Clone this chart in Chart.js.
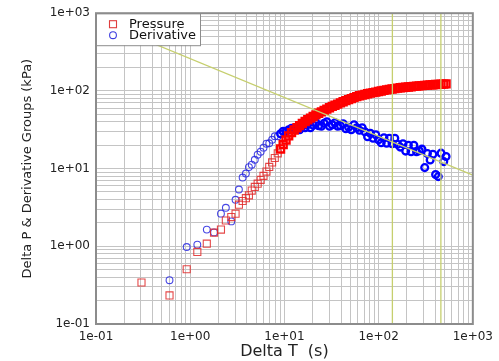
<!DOCTYPE html>
<html>
<head>
<meta charset="utf-8">
<script src="https://cdn.jsdelivr.net/npm/chart.js@4/dist/chart.umd.min.js"></script>
<style>
  html, body { margin: 0; padding: 0; background: #fff; }
  canvas { display: block; }
</style>
</head>
<body>
<canvas id="chart" width="499" height="361"></canvas>
<script>
/* global Chart */

// Delta T (s), shared by both series
const time = [
	0.304, 0.603, 0.918, 1.19, 1.5, 1.79, 2.12, 2.39, 2.73, 3.03, 3.29,
	3.6, 3.9, 4.2, 4.5, 4.85, 5.2, 5.6, 6.0, 6.45, 6.9,
	7.4, 7.9, 8.5, 9.1, 9.7, 10.4, 11.1, 11.9, 12.7, 13.6,
	14.5, 15.5, 16.6, 17.7, 18.9, 20.2, 21.6, 23.1, 24.7, 26.4,
	28.2, 30.1, 32.2, 34.4, 36.8, 39.3, 42, 44.9, 48, 51.3,
	54.8, 58.6, 62.6, 66.9, 71.5, 76.4, 81.7, 87.3, 93.3, 99.7,
	106.6, 113.9, 121.7, 130, 139, 148.5, 158.7, 169.6, 181.3, 193.7,
	207, 221.3, 236.5, 252.8, 270, 288.6, 308.5, 329.7, 352.4, 376.6,
	402.5, 430, 459.6, 491.2, 520
];

// Delta P (kPa)
const pressure = [
	0.342, 0.233, 0.507, 0.846, 1.08, 1.5, 1.64, 2.15, 2.38, 2.63, 3.43,
	3.83, 4.16, 4.53, 5.21, 5.81, 6.4, 7.16, 8.06, 9.15, 10.5,
	12.0, 13.7, 15.7, 17.9, 20.4, 23.3, 26.4, 29.0, 31.4, 33.6,
	35.8, 38.1, 40.4, 42.6, 44.7, 46.9, 49.2, 51.6, 53.8, 56.1,
	58.2, 60.7, 63.1, 65.4, 67.7, 70.2, 72.5, 74.9, 77.3, 79.4,
	81.8, 84.3, 86.5, 88.1, 89.9, 91.8, 93.5, 95.1, 96.6, 98.3,
	99.7, 101.5, 103.0, 104.5, 105.7, 107.0, 108.6, 109.6, 110.6, 111.5,
	112.2, 113.2, 114.2, 115.3, 116.2, 116.9, 117.7, 118.7, 119.4, 120.0,
	120.8, 121.3, 121.6, 122.2, 123.0
];

// Derivative group (kPa)
const derivative = [
	null, 0.366, 0.98, 1.05, 1.64, 1.51, 2.63, 3.13, 2.09, 3.97, 5.38,
	7.67, 8.63, 10.45, 11.25, 13.0, 15.1, 16.5, 18.6, 20.9, 21.2,
	23.5, 26.1, 26.1, 28.1, 30.3, 29.8, 31.6, 33.0, 31.6, 33.0,
	31.6, 35.1, 33.5, 37.2, 33.5, 36.1, 38.9, 35.6, 35.1, 38.3,
	40.0, 35.1, 36.6, 38.9, 35.1, 35.6, 37.8, 32.6, 34.0, 31.6,
	36.6, 33.5, 31.2, 33.5, 29.8, 25.7, 28.5, 24.6, 27.3, 23.5,
	21.5, 25.0, 21.2, 24.6, 20.9, 24.6, 20.6, 18.9, 20.9, 16.8,
	20.0, 16.5, 20.0, 16.5, 17.0, 17.8, 10.3, 15.6, 12.9, 15.3,
	8.38, 7.89, 15.8, 12.3, 14.3
];

// Half slope line and the two vertical markers
const slopeTime = [0.1, 1000];
const slopeValue = [823, 8.26];
const markerTimes = [140, 458];

const decades = [0.1, 1, 10, 100, 1000];
const tickLabels = ['1e-01', '1e+00', '1e+01', '1e+02', '1e+03'];

const FONT = 'DejaVu Sans';
const lineColor = '#c6cf6e';
const gridColor = '#c4c4c4';

const points = (xs, ys) => xs.map((x, i) => ({ x: x, y: ys[i] }));

// grid at 1..9 x each decade
const gridValues = [];
decades.forEach((d) => {
	if (d === 1000) {
		gridValues.push(d);
		return;
	}
	for (let m = 1; m < 10; m++) gridValues.push(m * d);
});

const tickText = (value) => {
	const i = decades.findIndex((d) => Math.abs(Math.log10(value) - Math.log10(d)) < 1e-6);
	return i >= 0 ? tickLabels[i] : '';
};

const axis = (text, titleFont, titlePadding, size) => ({
	type: 'logarithmic',
	min: 0.1,
	max: 1000,
	afterBuildTicks: (scale) => {
		scale.ticks = gridValues.map((v) => ({ value: v }));
	},
	afterFit: (scale) => {
		if (scale.isHorizontal()) scale.height = size;
		else scale.width = size;
	},
	grid: { display: true, drawTicks: false, color: gridColor, lineWidth: 1 },
	border: { display: false },
	ticks: {
		autoSkip: false,
		maxRotation: 0,
		padding: 6,
		color: '#222',
		font: { family: FONT, size: 12 },
		callback: tickText
	},
	title: {
		display: true,
		text: text,
		color: '#222',
		font: { family: FONT, size: titleFont },
		padding: titlePadding
	}
});

// Grid pushed behind everything already drawn, then legend and frame on top
const framePlugin = {
	id: 'frame',
	afterDraw(chart) {
		const { ctx, chartArea: a, scales } = chart;
		const sets = chart.data.datasets;

		ctx.save();
		ctx.globalAlpha = 1;
		ctx.setLineDash([]);
		ctx.globalCompositeOperation = 'destination-over';
		ctx.strokeStyle = gridColor;
		ctx.lineWidth = 1;
		ctx.beginPath();
		gridValues.forEach((v) => {
			const x = Math.round(scales.x.getPixelForValue(v) - 0.5) + 0.5;
			const y = Math.round(scales.y.getPixelForValue(v) - 0.5) + 0.5;
			ctx.moveTo(x, a.top);
			ctx.lineTo(x, a.bottom);
			ctx.moveTo(a.left, y);
			ctx.lineTo(a.right, y);
		});
		ctx.stroke();
		ctx.restore();

		ctx.save();
		ctx.globalAlpha = 1;
		ctx.globalCompositeOperation = 'source-over';

		// legend
		ctx.fillStyle = '#fff';
		ctx.fillRect(a.left, a.top, 104, 32);
		ctx.strokeStyle = '#8c8c8c';
		ctx.lineWidth = 1;
		ctx.strokeRect(a.left + 0.5, a.top + 0.5, 104, 32);

		ctx.lineWidth = 1.1;
		ctx.strokeStyle = 'rgba(220, 40, 40, 0.9)';
		ctx.strokeRect(a.left + 13.5, a.top + 7.5, 7, 7);
		ctx.strokeStyle = 'rgba(40, 40, 220, 0.9)';
		ctx.beginPath();
		ctx.arc(a.left + 17, a.top + 22, 3.4, 0, Math.PI * 2);
		ctx.stroke();

		ctx.fillStyle = '#111';
		ctx.font = '13px "' + FONT + '"';
		ctx.textBaseline = 'middle';
		ctx.fillText(sets[0].label, a.left + 33, a.top + 11);
		ctx.fillText(sets[1].label, a.left + 33, a.top + 22);

		// plot frame
		ctx.strokeStyle = '#8c8c8c';
		ctx.lineWidth = 2;
		ctx.strokeRect(a.left, a.top, a.right - a.left, a.bottom - a.top);
		ctx.restore();
	}
};

const refLine = (xs, ys) => ({
	data: points(xs, ys),
	showLine: true,
	borderColor: lineColor,
	backgroundColor: lineColor,
	borderWidth: 1.3,
	pointRadius: 0,
	order: -1
});

// thin outlines where the samples are sparse, heavy where they crowd
const dense = (c) => c.raw && c.raw.x > 9;
const markerWidth = (c) => (dense(c) ? 2.3 : 1.1);

const canvas = document.getElementById('chart');

new Chart(canvas, {
	type: 'scatter',
	data: {
		datasets: [
			{
				label: 'Pressure',
				data: points(time, pressure),
				pointStyle: 'rect',
				pointRadius: 5,
				borderWidth: markerWidth,
				borderColor: (c) => (dense(c) ? '#ff0000' : 'rgba(225, 40, 40, 0.85)'),
				backgroundColor: 'rgba(0, 0, 0, 0)'
			},
			{
				label: 'Derivative',
				data: points(time, derivative),
				pointStyle: 'circle',
				pointRadius: 3.4,
				borderWidth: markerWidth,
				borderColor: (c) => (dense(c) ? '#0000ff' : 'rgba(40, 40, 225, 0.85)'),
				backgroundColor: 'rgba(0, 0, 0, 0)'
			},
			refLine(slopeTime, slopeValue),
			refLine([markerTimes[0], markerTimes[0]], [0.1, 1000]),
			refLine([markerTimes[1], markerTimes[1]], [0.1, 1000])
		]
	},
	options: {
		responsive: false,
		animation: false,
		layout: { padding: { left: 0, top: 9, right: 22, bottom: 0 } },
		plugins: {
			legend: { display: false },
			tooltip: { enabled: false }
		},
		scales: {
			x: axis('Delta T  (s)', 16, { top: 0, bottom: 0 }, 37),
			y: axis('Delta P & Derivative Groups (kPa)', 13, { top: 20, bottom: 0 }, 96)
		}
	},
	plugins: [framePlugin]
});
</script>
</body>
</html>
